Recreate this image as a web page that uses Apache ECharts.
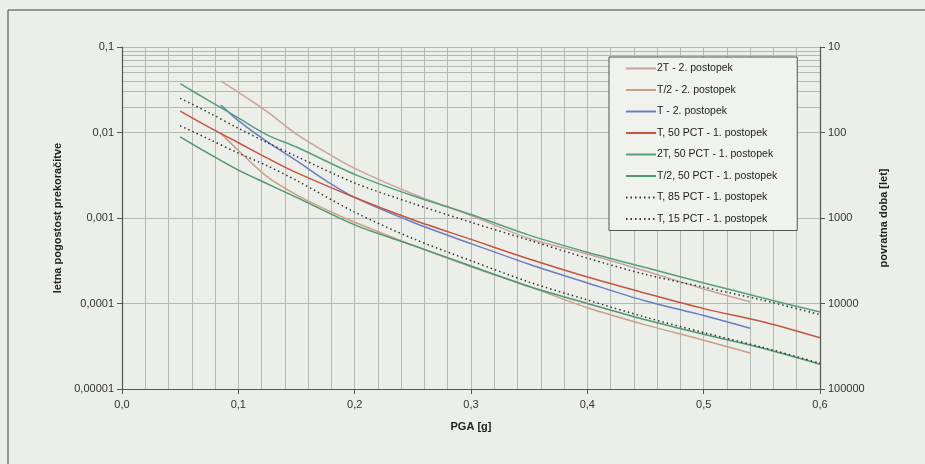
<!DOCTYPE html>
<html>
<head>
<meta charset="utf-8">
<script src="https://cdn.jsdelivr.net/npm/echarts@6/dist/echarts.min.js"></script>
<style>
  html, body { margin: 0; padding: 0; background: #eceee9; }
  #chart { width: 925px; height: 464px; }
</style>
</head>
<body>
<div id="chart"></div>
<script>
'use strict';

// PGA [g] sampling of the curves
var pgaMethod1 = [0.05, 0.075, 0.1, 0.125, 0.15, 0.2, 0.25, 0.3, 0.35, 0.4, 0.45, 0.5, 0.55, 0.6];
var pgaMethod2 = [0.085, 0.1, 0.125, 0.15, 0.175, 0.2, 0.25, 0.3, 0.35, 0.4, 0.45, 0.5, 0.54];

// 2. postopek
var twoT2 = [0.0398, 0.0295, 0.0174, 0.00955, 0.00589, 0.0038, 0.00191, 0.00107, 0.000575, 0.00038, 0.00024, 0.000148, 0.000105];
var halfT2 = [0.00977, 0.00617, 0.00302, 0.00186, 0.00126, 0.000891, 0.000479, 0.000269, 0.000158, 0.0000891, 0.0000562, 0.0000372, 0.0000263];
var t2 = [0.0209, 0.0138, 0.00776, 0.00468, 0.00275, 0.00174, 0.000891, 0.000501, 0.000288, 0.000174, 0.000107, 0.0000724, 0.0000513];

// 1. postopek
var t50 = [0.0178, 0.0115, 0.00759, 0.00501, 0.00339, 0.00174, 0.000955, 0.000562, 0.000331, 0.000204, 0.000132, 0.0000871, 0.0000617, 0.0000398];
var twoT50 = [0.0372, 0.0234, 0.0148, 0.00933, 0.00676, 0.00324, 0.00182, 0.0011, 0.000631, 0.000398, 0.000263, 0.000174, 0.000117, 0.0000794];
var halfT50 = [0.00891, 0.00562, 0.00363, 0.00251, 0.00174, 0.000832, 0.000479, 0.000275, 0.000158, 0.0001, 0.0000646, 0.0000437, 0.0000302, 0.0000195];
var t85 = [0.0251, 0.017, 0.0112, 0.00759, 0.00525, 0.00257, 0.00148, 0.000891, 0.00055, 0.000339, 0.000219, 0.000155, 0.00011, 0.0000741];
var t15 = [0.012, 0.00832, 0.00575, 0.00407, 0.00275, 0.00117, 0.000575, 0.000316, 0.000178, 0.00011, 0.0000692, 0.0000457, 0.0000309, 0.00002];

var seriesNames = [
  '2T - 2. postopek',
  'T/2 - 2. postopek',
  'T - 2. postopek',
  'T, 50 PCT - 1. postopek',
  '2T, 50 PCT - 1. postopek',
  'T/2, 50 PCT - 1. postopek',
  'T, 85 PCT - 1. postopek',
  'T, 15 PCT - 1. postopek'
];

function pairs(xs, ys) {
  return ys.map(function (v, i) { return [xs[i], v]; });
}

// log grid lines 2..9 within each decade
var minorLines = [];
for (var d = -5; d < -1; d++) {
  for (var k = 2; k <= 9; k++) {
    minorLines.push({ yAxis: k * Math.pow(10, d) });
  }
}

function curve(name, xs, ys, color, type) {
  return {
    name: name,
    type: 'line',
    z: 3,
    smooth: 0.3,
    symbol: 'none',
    data: pairs(xs, ys),
    lineStyle: { color: color, width: 1.5, type: type || 'solid' },
    itemStyle: { color: color }
  };
}

var chart = echarts.init(document.getElementById('chart'));
var axisText = { color: '#333', fontSize: 11, fontFamily: 'Liberation Sans, Arial, sans-serif' };
var nameText = { color: '#222', fontSize: 11, fontWeight: 'bold', fontFamily: 'Liberation Sans, Arial, sans-serif' };
var gridColor = '#b4b9b4';

var option = {
  backgroundColor: '#eceee9',
  animation: false,
  graphic: [
    { type: 'line', shape: { x1: 8, y1: 10, x2: 8, y2: 464 }, style: { stroke: '#777', lineWidth: 1.5 } },
    { type: 'line', shape: { x1: 8, y1: 10, x2: 925, y2: 10 }, style: { stroke: '#777', lineWidth: 1.5 } }
  ],
  grid: { left: 122, top: 47, right: 105, bottom: 75 },
  legend: {
    z: 20,
    orient: 'vertical',
    left: 609,
    top: 57,
    padding: [6, 20, 6, 16],
    itemWidth: 30,
    itemHeight: 12,
    itemGap: 10.5,
    backgroundColor: '#f0f2ee',
    borderColor: '#555',
    borderWidth: 1,
    borderRadius: 0,
    itemStyle: { opacity: 0 },
    textStyle: { color: '#222', fontSize: 10.5, fontFamily: 'Liberation Sans, Arial, sans-serif', padding: [0, 0, 0, -4] },
    data: seriesNames
  },
  xAxis: {
    type: 'value',
    min: 0,
    max: 0.6,
    interval: 0.1,
    name: 'PGA [g]',
    nameLocation: 'middle',
    nameGap: 32,
    nameTextStyle: nameText,
    axisLine: { show: true, lineStyle: { color: '#555', width: 1.2 } },
    axisTick: { show: true, inside: false, length: 5, lineStyle: { color: '#555' } },
    axisLabel: Object.assign({ margin: 10, formatter: function (v) { return v.toFixed(1).replace('.', ','); } }, axisText),
    splitLine: { show: true, lineStyle: { color: gridColor, width: 1 } },
    minorTick: { show: false, splitNumber: 5 },
    minorSplitLine: { show: true, lineStyle: { color: gridColor, width: 1 } }
  },
  yAxis: [
    {
      type: 'log',
      logBase: 10,
      min: 0.00001,
      max: 0.1,
      name: 'letna pogostost prekoračitve',
      nameLocation: 'middle',
      nameGap: 54,
      nameRotate: 90,
      nameTextStyle: nameText,
      axisLine: { show: true, lineStyle: { color: '#555', width: 1.2 } },
      axisTick: { show: true, length: 5, lineStyle: { color: '#555' } },
      axisLabel: Object.assign({
        margin: 8,
        formatter: function (v) {
          return v.toFixed(Math.round(-Math.log10(v))).replace('.', ',');
        }
      }, axisText),
      splitLine: { show: true, lineStyle: { color: gridColor, width: 1 } }
    },
    {
      type: 'log',
      logBase: 10,
      min: 10,
      max: 100000,
      inverse: true,
      position: 'right',
      name: 'povratna doba [let]',
      nameLocation: 'middle',
      nameGap: 58,
      nameRotate: 90,
      nameTextStyle: nameText,
      axisLine: { show: true, lineStyle: { color: '#555', width: 1.2 } },
      axisTick: { show: true, length: 5, lineStyle: { color: '#555' } },
      axisLabel: Object.assign({ margin: 8, formatter: function (v) { return String(Math.round(v)); } }, axisText),
      splitLine: { show: false }
    }
  ],
  series: [
    {
      name: 'grid',
      type: 'line',
      z: 0,
      data: [],
      silent: true,
      markLine: {
        silent: true,
        z: 0,
        symbol: 'none',
        label: { show: false },
        lineStyle: { color: gridColor, width: 1, type: 'solid' },
        data: minorLines
      }
    },
    curve(seriesNames[0], pgaMethod2, twoT2, '#c9a3a3'),
    curve(seriesNames[1], pgaMethod2, halfT2, '#c9a085'),
    curve(seriesNames[2], pgaMethod2, t2, '#6a7cc2'),
    curve(seriesNames[3], pgaMethod1, t50, '#c4553d'),
    curve(seriesNames[4], pgaMethod1, twoT50, '#56a078'),
    curve(seriesNames[5], pgaMethod1, halfT50, '#4f9670'),
    curve(seriesNames[6], pgaMethod1, t85, '#333', [1.5, 3]),
    curve(seriesNames[7], pgaMethod1, t15, '#333', [1.5, 3])
  ]
};

chart.setOption(option);
</script>
</body>
</html>
